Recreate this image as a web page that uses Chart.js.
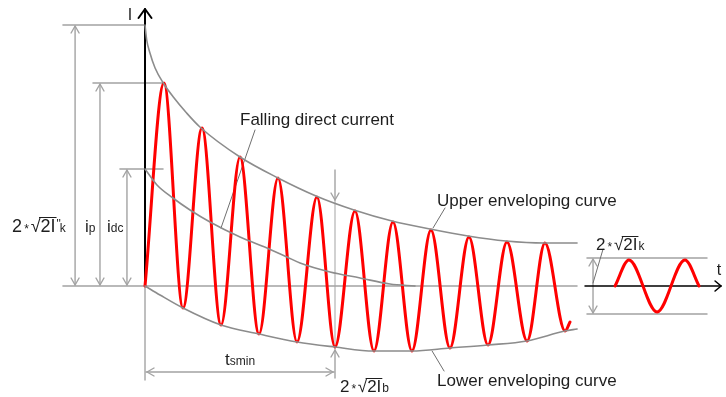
<!DOCTYPE html>
<html>
<head>
<meta charset="utf-8">
<script src="https://cdn.jsdelivr.net/npm/chart.js@4.4.1/dist/chart.umd.min.js"></script>
<style>
  html, body { margin: 0; padding: 0; background: #fff; }
  canvas { display: block; }
</style>
</head>
<body>
<canvas id="c" width="726" height="397"></canvas>
<script>
// Short-circuit current: time in ms (50 Hz), current in relative units.

// Successive extremes of the asymmetric short-circuit current
const waveTime    = [0, 10, 20, 30, 40, 50, 60, 70, 80, 90.5, 100, 110.5, 120.5, 130.5, 140.5, 150.5, 160.5, 170.5, 180.5, 190.5, 201.1, 210.5, 221.1, 223.7];
const waveCurrent = [0, 20.3, -2.2, 15.8, -3.9, 12.9, -4.8, 10.8, -5.6, 8.9, -6.1, 7.5, -6.5, 6.4, -6.5, 5.6, -6.2, 4.9, -5.9, 4.4, -5.5, 4.3, -4.5, -3.6];

// Upper enveloping curve
const upperTime    = [0, 0.9, 2.6, 5.3, 9.6, 14.9, 21.9, 28.9, 50, 70, 90, 110, 130, 150, 170, 190, 210, 227.4];
const upperCurrent = [26.1, 24.6, 23.3, 21.8, 20.3, 18.9, 17.3, 15.9, 12.9, 10.8, 9.0, 7.6, 6.5, 5.7, 5.0, 4.5, 4.3, 4.3];

// Lower enveloping curve
const lowerTime    = [0, 7.9, 20, 40, 60, 80, 100, 120.5, 140.5, 160.5, 180.5, 201, 221, 227.4];
const lowerCurrent = [0, -0.9, -2.2, -3.9, -4.8, -5.6, -6.1, -6.5, -6.5, -6.2, -5.9, -5.5, -4.5, -4.3];

// Falling direct current component
const dcTime    = [0, 6.3, 14.7, 23.7, 34.2, 50, 64.2, 74.7, 81.6, 97.4, 113.2, 128.9, 142.1];
const dcCurrent = [11.7, 10.1, 8.8, 7.6, 6.4, 4.9, 3.8, 2.9, 2.3, 1.4, 0.8, 0.2, 0];

// Steady-state current (small sketch on the right)
const steadyTime    = [247.4, 254.7, 269.5, 284.2, 291.6];
const steadyCurrent = [0, 2.6, -2.6, 2.6, 0];
const steadyBand    = [2.8, -2.8];

// Breaking time t_smin
const breakTime = 100;

const FONT = '"Liberation Sans", Arial, sans-serif';
const GRAY = '#a3a3a3';
const CURVE = '#8c8c8c';
const LEADER = '#6f6f6f';
const INK = '#1e1e1e';

function points(ts, vs) { return ts.map((t, k) => ({ x: t, y: vs[k] })); }

function seg(ctx, x1, y1, x2, y2) {
  ctx.beginPath(); ctx.moveTo(x1, y1); ctx.lineTo(x2, y2); ctx.stroke();
}
// open arrow head with its tip at (x, y), pointing along (dx, dy)
function head(ctx, x, y, dx, dy, len, half) {
  const n = Math.hypot(dx, dy); dx /= n; dy /= n;
  const bx = x - dx * len, by = y - dy * len;
  ctx.beginPath();
  ctx.moveTo(bx - dy * half, by + dx * half);
  ctx.lineTo(x, y);
  ctx.lineTo(bx + dy * half, by - dx * half);
  ctx.stroke();
}
function dimV(ctx, x, y1, y2) {
  seg(ctx, x, y1, x, y2);
  head(ctx, x, y1, 0, -1, 7, 4);
  head(ctx, x, y2, 0, 1, 7, 4);
}

// "2 * √2I" followed by an optional prime and a subscript
function formula(ctx, x, y, size, prime, sub) {
  const small = Math.round(size * 0.68);
  ctx.textAlign = 'left'; ctx.textBaseline = 'alphabetic';
  ctx.font = `${size}px ${FONT}`;
  ctx.fillText('2', x, y);
  x += ctx.measureText('2').width + size * 0.12;
  ctx.font = `${small}px ${FONT}`;
  ctx.fillText('*', x, y + size * 0.05);
  x += ctx.measureText('*').width + size * 0.1;
  ctx.font = `${size}px ${FONT}`;
  ctx.fillText('\u221A', x, y);
  const rm = ctx.measureText('\u221A');
  const rw = rm.width;
  const top = y - (rm.actualBoundingBoxAscent || size * 0.9) + 0.5;
  const body = '2I';
  const bw = ctx.measureText(body).width;
  ctx.fillText(body, x + rw, y);
  ctx.save();
  ctx.strokeStyle = INK; ctx.lineWidth = 1;
  seg(ctx, x + rw - 1.5, top, x + rw + bw + 1, top);
  ctx.restore();
  x += rw + bw + 1;
  ctx.font = `${small}px ${FONT}`;
  if (prime) {
    ctx.fillText('"', x, y - size * 0.22);
    x += ctx.measureText('"').width - 1;
  }
  ctx.fillText(sub, x, y);
}
function subscripted(ctx, x, y, size, main, sub) {
  ctx.textAlign = 'left'; ctx.textBaseline = 'alphabetic';
  ctx.font = `${size}px ${FONT}`;
  ctx.fillText(main, x, y);
  const w = ctx.measureText(main).width;
  ctx.font = `${Math.round(size * 0.72)}px ${FONT}`;
  ctx.fillText(sub, x + w, y);
}

const annotate = {
  id: 'annotate',
  beforeDatasetsDraw(chart) {
    const ctx = chart.ctx;
    const X = v => chart.scales.x.getPixelForValue(v);
    const Y = v => chart.scales.y.getPixelForValue(v);
    ctx.save();
    ctx.lineCap = 'round'; ctx.lineJoin = 'round';

    // reference lines and dimension arrows
    ctx.strokeStyle = GRAY; ctx.lineWidth = 1.4;
    seg(ctx, X(-43.2), Y(upperCurrent[0]), X(0), Y(upperCurrent[0]));
    seg(ctx, X(-27.4), Y(waveCurrent[1]), X(waveTime[1] - 0.5), Y(waveCurrent[1]));
    seg(ctx, X(-13.2), Y(dcCurrent[0]), X(9.5), Y(dcCurrent[0]));
    seg(ctx, X(-43.2), Y(0), X(227.4), Y(0));
    dimV(ctx, X(-36.8), Y(upperCurrent[0]) + 1, Y(0) - 1);
    dimV(ctx, X(-23.7), Y(waveCurrent[1]) + 1, Y(0) - 1);
    dimV(ctx, X(-9.5), Y(dcCurrent[0]) + 1, Y(0) - 1);

    // t_smin
    seg(ctx, X(0), Y(0), X(0), Y(-9.4));
    seg(ctx, X(0) + 1, Y(-8.6), X(breakTime) - 1, Y(-8.6));
    head(ctx, X(0) + 2, Y(-8.6), -1, 0, 7, 4);
    head(ctx, X(breakTime) - 2, Y(-8.6), 1, 0, 7, 4);

    // peak markers at the breaking time
    ctx.lineWidth = 1;
    seg(ctx, X(breakTime), Y(8.6), X(breakTime), Y(-6.3));
    ctx.lineWidth = 1.4;
    seg(ctx, X(breakTime), Y(11.6), X(breakTime), Y(8.6));
    head(ctx, X(breakTime), Y(8.6), 0, 1, 7, 4);
    seg(ctx, X(breakTime), Y(-6.4), X(breakTime), Y(-9.2));
    head(ctx, X(breakTime), Y(-6.4), 0, -1, 7, 4);

    // steady-state band
    seg(ctx, X(232.6), Y(steadyBand[0]), X(295.8), Y(steadyBand[0]));
    seg(ctx, X(232.6), Y(steadyBand[1]), X(295.8), Y(steadyBand[1]));
    dimV(ctx, X(235.8), Y(steadyBand[0]) + 1, Y(steadyBand[1]) - 1);

    // leader lines
    ctx.strokeStyle = LEADER; ctx.lineWidth = 1;
    seg(ctx, X(57.9), Y(15.6), X(40), Y(5.8));
    seg(ctx, X(157.9), Y(7.8), X(151.6), Y(5.8));
    seg(ctx, X(151.1), Y(-6.5), X(157.4), Y(-8.5));
    seg(ctx, X(241.1), Y(3.7), X(235.8), Y(0.3));

    // axes
    ctx.strokeStyle = '#000'; ctx.lineWidth = 2;
    seg(ctx, X(0), Y(0), X(0), Y(27.7));
    head(ctx, X(0), Y(27.7), 0, -1, 9, 6.5);
    ctx.lineWidth = 1.6;
    seg(ctx, X(231.6), Y(0), X(303.2), Y(0));
    head(ctx, X(303.2), Y(0), 1, 0, 6, 5);
    ctx.restore();
  },
  afterDatasetsDraw(chart) {
    const ctx = chart.ctx;
    const X = v => chart.scales.x.getPixelForValue(v);
    const Y = v => chart.scales.y.getPixelForValue(v);
    ctx.save();
    ctx.fillStyle = INK;
    ctx.textBaseline = 'alphabetic';

    ctx.font = `16px ${FONT}`;
    ctx.textAlign = 'center';
    ctx.fillText('I', X(-7.9), Y(26.6));
    ctx.fillText('t', X(302.1), Y(1.1));

    ctx.font = `17px ${FONT}`;
    ctx.textAlign = 'left';
    ctx.fillText('Falling direct current', X(50), Y(16.1));
    ctx.fillText('Upper enveloping curve', X(153.7), Y(8.0));
    ctx.fillText('Lower enveloping curve', X(153.7), Y(-10.0));

    formula(ctx, X(-70), Y(5.4), 18, true, 'k');
    subscripted(ctx, X(-31.6), Y(5.4), 17, 'i', 'p');
    subscripted(ctx, X(-20.0), Y(5.4), 17, 'i', 'dc');
    subscripted(ctx, X(42.1), Y(-7.9), 17, 't', 'smin');
    formula(ctx, X(102.6), Y(-10.6), 17, false, 'b');
    formula(ctx, X(237.4), Y(3.6), 17, false, 'k');
    ctx.restore();
  }
};

const curve = (data, color, width, mode) => ({
  data, borderColor: color, borderWidth: width, pointRadius: 0,
  fill: false, cubicInterpolationMode: mode, tension: 0.4,
  borderCapStyle: 'round', borderJoinStyle: 'round'
});

new Chart(document.getElementById('c'), {
  type: 'line',
  data: {
    datasets: [
      curve(points(upperTime, upperCurrent), CURVE, 1.6, 'monotone'),
      curve(points(lowerTime, lowerCurrent), CURVE, 1.6, 'monotone'),
      curve(points(dcTime, dcCurrent), CURVE, 1.6, 'monotone'),
      curve(points(waveTime, waveCurrent), '#ff0000', 3, 'monotone'),
      curve(points(steadyTime, steadyCurrent), '#ff0000', 3, 'monotone')
    ]
  },
  options: {
    responsive: false,
    animation: false,
    devicePixelRatio: 1,
    layout: { padding: 0 },
    plugins: { legend: { display: false }, tooltip: { enabled: false } },
    scales: {
      x: { type: 'linear', min: -76.32, max: 305.79, display: false },
      y: { type: 'linear', min: -11.1, max: 28.6, display: false }
    }
  },
  plugins: [annotate]
});
</script>
</body>
</html>
